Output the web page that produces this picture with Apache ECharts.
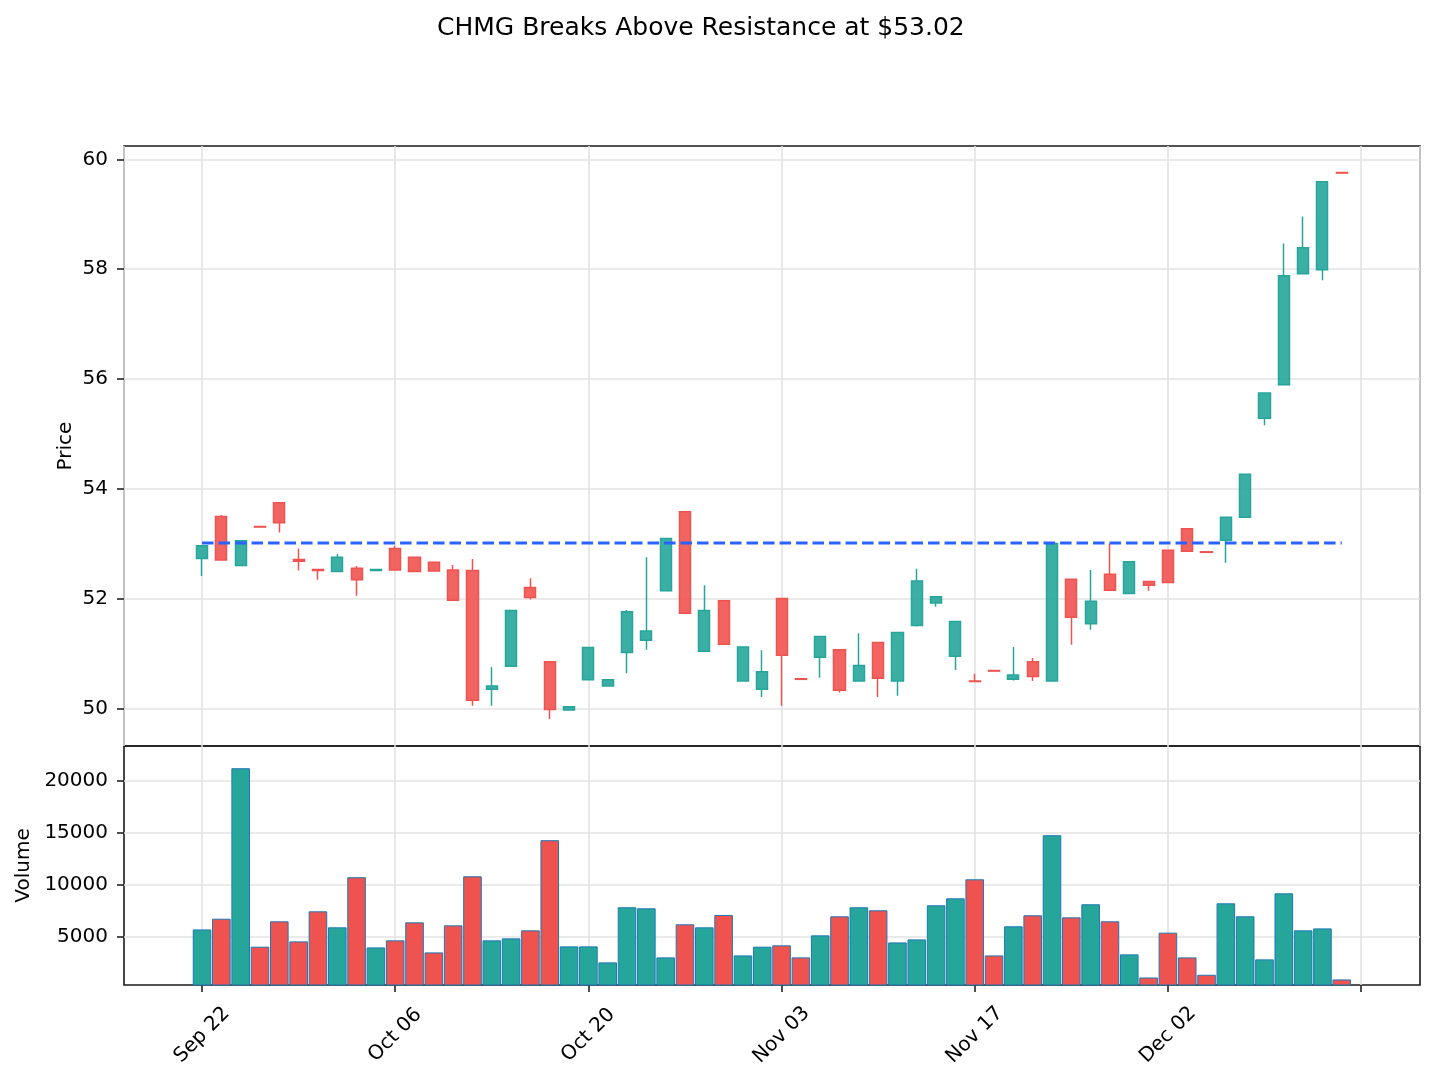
<!DOCTYPE html>
<html>
<head>
<meta charset="utf-8">
<script src="https://cdn.jsdelivr.net/npm/echarts@6.0.0/dist/echarts.min.js"></script>
<style>
  html, body { margin: 0; padding: 0; background: #fff; }
  #chart { width: 1435px; height: 1082px; }
</style>
</head>
<body>
<div id="chart"></div>
<script>
const titleText = 'CHMG Breaks Above Resistance at $53.02';
const resistanceLevel = 53.02;

const dates = [
  'Sep 22','Sep 23','Sep 24','Sep 25','Sep 26','Sep 29','Sep 30','Oct 01','Oct 02','Oct 03',
  'Oct 06','Oct 07','Oct 08','Oct 09','Oct 10','Oct 13','Oct 14','Oct 15','Oct 16','Oct 17',
  'Oct 20','Oct 21','Oct 22','Oct 23','Oct 24','Oct 27','Oct 28','Oct 29','Oct 30','Oct 31',
  'Nov 03','Nov 04','Nov 05','Nov 06','Nov 07','Nov 10','Nov 11','Nov 12','Nov 13','Nov 14',
  'Nov 17','Nov 18','Nov 19','Nov 20','Nov 21','Nov 24','Nov 25','Nov 26','Nov 28','Dec 01',
  'Dec 02','Dec 03','Dec 04','Dec 05','Dec 08','Dec 09','Dec 10','Dec 11','Dec 12','Dec 15'
];

const opens = [
  52.74, 53.50, 52.61, 53.32, 53.75, 52.72, 52.54, 52.50, 52.56, 52.52,
  52.92, 52.76, 52.67, 52.53, 52.52, 50.36, 50.78, 52.21, 50.86, 49.98,
  50.53, 50.42, 51.03, 51.25, 52.15, 53.59, 51.05, 51.97, 50.51, 50.36,
  52.01, 50.55, 50.94, 51.08, 50.51, 51.21, 50.51, 51.52, 51.93, 50.96,
  50.51, 50.70, 50.54, 50.86, 50.51, 52.36, 51.55, 52.45, 52.10, 52.32,
  52.89, 53.28, 52.86, 53.07, 53.49, 55.29, 55.90, 57.92, 57.99, 59.76
];
const closes = [
  52.97, 52.71, 53.06, 53.31, 53.39, 52.69, 52.52, 52.76, 52.35, 52.54,
  52.53, 52.50, 52.51, 51.98, 50.16, 50.42, 51.79, 52.03, 49.99, 50.04,
  51.12, 50.53, 51.77, 51.42, 53.10, 51.74, 51.79, 51.18, 51.13, 50.68,
  50.98, 50.54, 51.32, 50.34, 50.79, 50.56, 51.39, 52.33, 52.04, 51.59,
  50.50, 50.69, 50.62, 50.59, 53.01, 51.67, 51.96, 52.16, 52.68, 52.25,
  52.30, 52.87, 52.85, 53.49, 54.27, 55.75, 57.88, 58.39, 59.59, 59.75
];
const lows = [
  52.42, 52.71, 52.61, 53.31, 53.21, 52.52, 52.35, 52.50, 52.06, 52.51,
  52.53, 52.50, 52.51, 51.98, 50.06, 50.06, 50.78, 51.99, 49.82, 49.98,
  50.53, 50.42, 50.65, 51.08, 52.15, 51.74, 51.05, 51.18, 50.51, 50.22,
  50.06, 50.54, 50.57, 50.30, 50.51, 50.22, 50.24, 51.50, 51.86, 50.71,
  50.50, 50.69, 50.52, 50.51, 50.51, 51.17, 51.44, 52.16, 52.10, 52.15,
  52.30, 52.87, 52.85, 52.66, 53.49, 55.16, 55.90, 57.92, 57.80, 59.75
];
const highs = [
  52.97, 53.53, 53.07, 53.32, 53.75, 52.92, 52.54, 52.82, 52.60, 52.55,
  52.97, 52.76, 52.67, 52.62, 52.73, 50.76, 51.79, 52.38, 50.86, 50.05,
  51.12, 50.53, 51.80, 52.76, 53.10, 53.59, 52.25, 51.97, 51.13, 51.07,
  52.01, 50.55, 51.32, 51.08, 51.38, 51.21, 51.39, 52.55, 52.04, 51.59,
  50.64, 50.70, 51.13, 50.93, 53.01, 52.36, 52.53, 53.01, 52.68, 52.32,
  52.89, 53.28, 52.86, 53.49, 54.27, 55.75, 58.47, 58.96, 59.59, 59.76
];
const volumes = [
  5700, 6730, 21200, 4040, 6480, 4550, 7440, 5900, 10720, 3970,
  4650, 6380, 3490, 6090, 10810, 4650, 4840, 5610, 14280, 4070,
  4070, 2530, 7830, 7730, 3010, 6190, 5900, 7090, 3200, 4040,
  4170, 3010, 5130, 6960, 7830, 7540, 4450, 4740, 8020, 8690,
  10520, 3200, 6000, 7060, 14760, 6860, 8120, 6480, 3300, 1080,
  5390, 3010, 1340, 8210, 6960, 2820, 9170, 5610, 5800, 890
];

const priceTicks = [50, 52, 54, 56, 58, 60];
const volumeTicks = [5000, 10000, 15000, 20000];
const xTickIndices = [0, 10, 20, 30, 40, 50, 60];
const xLabelIndices = [0, 10, 20, 30, 40, 50];

const UP = '#26a69a';
const DOWN = '#ef5350';
const FONT = 'DejaVu Sans';
const GRID_LINE = { show: true, lineStyle: { color: '#e3e3e3', width: 1.6 } };
const TICK_STYLE = { color: '#222', width: 1.6 };

const candleData = dates.map((d, i) => [i, opens[i], closes[i], lows[i], highs[i]]);
const volumeData = volumes.map((v, i) => ({
  value: [i, v],
  itemStyle: { color: closes[i] >= opens[i] ? UP : DOWN }
}));
const resistanceData = [[0, resistanceLevel], [dates.length - 1, resistanceLevel]];

const X_MIN = -4.04, X_MAX = 63.05;

const chart = echarts.init(document.getElementById('chart'), null, { renderer: 'canvas' });
chart.setOption({
  animation: false,
  backgroundColor: '#ffffff',
  textStyle: { fontFamily: FONT },
  title: {
    text: titleText,
    left: 432,
    top: 11,
    textStyle: { fontFamily: FONT, fontSize: 25, fontWeight: 'normal', color: '#000' }
  },
  grid: [
    { left: 124, right: 15, top: 146, height: 600, show: true, borderColor: '#1a1a1a', borderWidth: 1.6, backgroundColor: 'rgba(0,0,0,0)', outerBoundsMode: 'none' },
    { left: 124, right: 15, top: 746, height: 239, show: true, borderColor: '#1a1a1a', borderWidth: 1.6, backgroundColor: 'rgba(0,0,0,0)', outerBoundsMode: 'none' }
  ],
  xAxis: [
    {
      type: 'value', gridIndex: 0, min: X_MIN, max: X_MAX,
      axisLine: { show: false, onZero: false },
      axisTick: { show: false },
      axisLabel: { show: false },
      splitLine: GRID_LINE
    },
    {
      type: 'value', gridIndex: 1, min: X_MIN, max: X_MAX,
      axisLine: { show: false, onZero: false },
      axisTick: { show: true, customValues: xTickIndices, length: 7, lineStyle: TICK_STYLE },
      axisLabel: {
        customValues: xLabelIndices,
        formatter: v => dates[Math.round(v)] || '',
        rotate: 45, align: 'center', verticalAlign: 'middle', margin: 50,
        fontSize: 20, color: '#000', fontFamily: FONT
      },
      splitLine: GRID_LINE
    }
  ],
  yAxis: [
    {
      type: 'value', gridIndex: 0, min: 49.327, max: 60.242,
      name: 'Price', nameLocation: 'middle', nameGap: 48, nameMoveOverlap: false,
      nameTextStyle: { fontSize: 20, color: '#000', fontFamily: FONT },
      axisLine: { show: false, onZero: false },
      axisTick: { show: true, customValues: priceTicks, length: 7, lineStyle: TICK_STYLE },
      axisLabel: { customValues: priceTicks, formatter: v => String(v), fontSize: 20, color: '#000', margin: 16, fontFamily: FONT },
      splitLine: GRID_LINE
    },
    {
      type: 'value', gridIndex: 1, min: 356, max: 23337,
      name: 'Volume', nameLocation: 'middle', nameGap: 46,
      nameTextStyle: { fontSize: 20, color: '#000', fontFamily: FONT },
      axisLine: { show: false, onZero: false },
      axisTick: { show: true, customValues: volumeTicks, length: 7, lineStyle: TICK_STYLE },
      axisLabel: { customValues: volumeTicks, formatter: v => String(v), fontSize: 20, color: '#000', margin: 16, fontFamily: FONT },
      splitLine: GRID_LINE
    }
  ],
  series: [
    {
      type: 'candlestick', xAxisIndex: 0, yAxisIndex: 0,
      data: candleData,
      encode: { x: 0, y: [1, 2, 3, 4] },
      barWidth: 11.6,
      itemStyle: {
        color: 'rgba(38,166,154,0.9)', color0: 'rgba(239,83,80,0.9)',
        borderColor: UP, borderColor0: DOWN, borderWidth: 1.5
      },
      z: 3
    },
    {
      type: 'line', xAxisIndex: 0, yAxisIndex: 0,
      data: resistanceData,
      symbol: 'none',
      lineStyle: { color: '#2962ff', width: 3, type: [11.5, 5] },
      z: 5
    },
    {
      type: 'bar', xAxisIndex: 1, yAxisIndex: 1,
      data: volumeData,
      barWidth: 18.6,
      itemStyle: { borderColor: '#1f77b4', borderWidth: 1 },
      z: 3
    }
  ]
});
</script>
</body>
</html>
